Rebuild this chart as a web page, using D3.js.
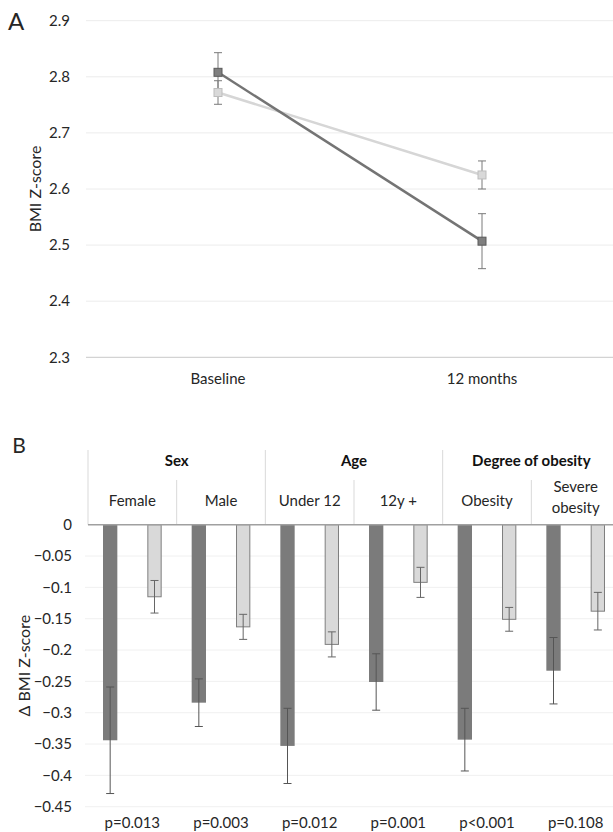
<!DOCTYPE html>
<html>
<head>
<meta charset="utf-8">
<script src="https://cdn.jsdelivr.net/npm/d3@7"></script>
<style>
  html, body { margin: 0; padding: 0; background: #fff; }
  svg { display: block; font-family: Lato, "Open Sans", sans-serif; }
</style>
</head>
<body>
<svg id="chart" width="613" height="832"></svg>
<script>
// ---------- Panel A data ----------
const timepoints = ["Baseline", "12 months"];
const darkMeans = [2.808, 2.507];
const darkErrs = [0.035, 0.049];
const lightMeans = [2.772, 2.625];
const lightErrs = [0.021, 0.025];
const ticksA = [2.3, 2.4, 2.5, 2.6, 2.7, 2.8, 2.9];

// ---------- Panel B data ----------
const categories = ["Female", "Male", "Under 12", "12y +", "Obesity", "Severe obesity"];
const groupNames = ["Sex", "Age", "Degree of obesity"];
const groupSizes = [2, 2, 2];
const darkDelta = [-0.344, -0.284, -0.353, -0.251, -0.343, -0.233];
const darkDeltaErr = [0.085, 0.038, 0.060, 0.045, 0.050, 0.053];
const lightDelta = [-0.115, -0.163, -0.191, -0.092, -0.151, -0.138];
const lightDeltaErr = [0.026, 0.020, 0.020, 0.024, 0.019, 0.030];
const pValues = ["p=0.013", "p=0.003", "p=0.012", "p=0.001", "p<0.001", "p=0.108"];
const ticksB = [0, -0.05, -0.1, -0.15, -0.2, -0.25, -0.3, -0.35, -0.4, -0.45];

const svg = d3.select("#chart");
const textColor = "#262626";
const darkFill = "#7b7b7b", lightFill = "#d9d9d9";
const fs = 15;

// ================= PANEL A =================
const xA = d3.scaleBand().domain(timepoints).range([86, 614]);
const yA = d3.scaleLinear().domain([2.3, 2.9]).range([357.3, 20.7]);
const gA = svg.append("g");

gA.append("text").attr("x", 16).attr("y", 29.5).attr("text-anchor", "middle")
  .attr("font-size", 24).attr("fill", textColor).text("A");

gA.selectAll(".gridA").data(ticksA).join("line")
  .attr("x1", 86).attr("x2", 613)
  .attr("y1", d => yA(d)).attr("y2", d => yA(d))
  .attr("stroke", d => d === 2.3 ? "#c8c8c8" : "#ececec").attr("stroke-width", 1);

gA.selectAll(".tickA").data(ticksA).join("text")
  .attr("x", 70).attr("y", d => yA(d)).attr("dy", "0.35em")
  .attr("text-anchor", "end").attr("font-size", fs).attr("fill", textColor)
  .text(d => d3.format(".1f")(d));

gA.append("text").attr("transform", `translate(41,${(yA(2.3) + yA(2.9)) / 2}) rotate(-90)`)
  .attr("text-anchor", "middle").attr("font-size", 16).attr("fill", textColor).text("BMI Z-score");

gA.selectAll(".xlabA").data(timepoints).join("text")
  .attr("x", d => xA(d) + xA.bandwidth() / 2).attr("y", 384)
  .attr("text-anchor", "middle").attr("font-size", fs).attr("fill", textColor).text(d => d);

const seriesA = [
  { means: lightMeans, errs: lightErrs, line: "#d6d6d6", fill: "#d9d9d9", stroke: "#bdbdbd" },
  { means: darkMeans, errs: darkErrs, line: "#747474", fill: "#7f7f7f", stroke: "#5a5a5a" }
];
const cx = i => xA(timepoints[i]) + xA.bandwidth() / 2;
const lineGen = d3.line().x((d, i) => cx(i)).y(d => yA(d));

seriesA.forEach(s => {
  gA.append("path").datum(s.means).attr("d", lineGen)
    .attr("fill", "none").attr("stroke", s.line).attr("stroke-width", 2.5);
});
seriesA.forEach(s => {
  const eg = gA.append("g").attr("stroke", "#7a7a7a").attr("stroke-width", 1);
  s.means.forEach((m, i) => {
    const x = cx(i), t = yA(m + s.errs[i]), b = yA(m - s.errs[i]);
    eg.append("line").attr("x1", x).attr("x2", x).attr("y1", t).attr("y2", b);
    eg.append("line").attr("x1", x - 4).attr("x2", x + 4).attr("y1", t).attr("y2", t);
    eg.append("line").attr("x1", x - 4).attr("x2", x + 4).attr("y1", b).attr("y2", b);
  });
});
seriesA.forEach(s => {
  gA.selectAll(null).data(s.means).join("rect")
    .attr("x", (d, i) => cx(i) - 4).attr("y", d => yA(d) - 4)
    .attr("width", 8).attr("height", 8)
    .attr("fill", s.fill).attr("stroke", s.stroke).attr("stroke-width", 1);
});

// ================= PANEL B =================
const x0 = d3.scaleBand().domain(categories).range([88, 620]);
const seriesKeys = ["dark", "light"];
const x1 = d3.scaleBand().domain(seriesKeys).range([0, x0.bandwidth()])
  .paddingInner(0.677).paddingOuter(0.3385);
const yB = d3.scaleLinear().domain([-0.45, 0]).range([806.7, 524.7]);
const gB = svg.append("g");

gB.append("text").attr("x", 19).attr("y", 452.5).attr("text-anchor", "middle")
  .attr("font-size", 21).attr("fill", textColor).text("B");

gB.selectAll(".gridB").data(ticksB.filter(d => d !== 0)).join("line")
  .attr("x1", 85).attr("x2", 613)
  .attr("y1", d => yB(d)).attr("y2", d => yB(d))
  .attr("stroke", "#f0f0f0").attr("stroke-width", 1);

gB.selectAll(".tickB").data(ticksB).join("text")
  .attr("x", 72).attr("y", d => yB(d)).attr("dy", "0.35em")
  .attr("text-anchor", "end").attr("font-size", fs).attr("fill", textColor)
  .text(d => d === 0 ? "0" : d3.format("")(+d.toFixed(2)));

gB.append("text").attr("transform", `translate(30,${(yB(0) + yB(-0.45)) / 2}) rotate(-90)`)
  .attr("text-anchor", "middle").attr("font-size", 16).attr("fill", textColor).text("Δ BMI Z-score");

let idx = 0;
const groupStarts = [];
groupSizes.forEach(n => { groupStarts.push(idx); idx += n; });
groupStarts.forEach((start, gi) => {
  const xs = x0(categories[start]);
  const xe = x0(categories[start + groupSizes[gi] - 1]) + x0.bandwidth();
  gB.append("line").attr("x1", xs).attr("x2", xs).attr("y1", 450).attr("y2", yB(0))
    .attr("stroke", "#d9d9d9");
  gB.append("text").attr("x", (xs + xe) / 2).attr("y", 466)
    .attr("text-anchor", "middle").attr("font-size", fs).attr("font-weight", "bold")
    .attr("fill", "#111").text(groupNames[gi]);
});
categories.forEach((c, i) => {
  if (!groupStarts.includes(i)) {
    gB.append("line").attr("x1", x0(c)).attr("x2", x0(c)).attr("y1", 480).attr("y2", yB(0))
      .attr("stroke", "#d9d9d9");
  }
  const words = c === "Severe obesity" ? ["Severe", "obesity"] : [c];
  const t = gB.append("text").attr("text-anchor", "middle").attr("font-size", fs).attr("fill", textColor);
  if (words.length === 1) {
    t.attr("x", x0(c) + x0.bandwidth() / 2).attr("y", 506).text(c);
  } else {
    words.forEach((w, k) => {
      t.append("tspan").attr("x", x0(c) + x0.bandwidth() / 2).attr("y", 492 + k * 21).text(w);
    });
  }
});

const barData = categories.map((c, i) => [
  { cat: c, key: "dark", v: darkDelta[i], e: darkDeltaErr[i] },
  { cat: c, key: "light", v: lightDelta[i], e: lightDeltaErr[i] }
]).flat();

gB.selectAll(".bar").data(barData).join("rect")
  .attr("x", d => x0(d.cat) + x1(d.key) + (d.key === "light" ? 0.5 : 0))
  .attr("y", yB(0))
  .attr("width", d => x1.bandwidth() - (d.key === "light" ? 1 : 0))
  .attr("height", d => yB(d.v) - yB(0))
  .attr("fill", d => d.key === "dark" ? darkFill : lightFill)
  .attr("stroke", d => d.key === "dark" ? "none" : "#7f7f7f")
  .attr("stroke-width", 1);

gB.append("line").attr("x1", 88).attr("x2", 613).attr("y1", yB(0)).attr("y2", yB(0))
  .attr("stroke", "#a0a0a0").attr("stroke-width", 1.5);

barData.forEach(d => {
  const x = x0(d.cat) + x1(d.key) + x1.bandwidth() / 2;
  const t = yB(d.v + d.e), b = yB(d.v - d.e);
  const col = d.key === "dark" ? "#555" : "#666";
  const g = gB.append("g").attr("stroke", col).attr("stroke-width", 1);
  g.append("line").attr("x1", x).attr("x2", x).attr("y1", t).attr("y2", b);
  g.append("line").attr("x1", x - 4).attr("x2", x + 4).attr("y1", t).attr("y2", t);
  g.append("line").attr("x1", x - 4).attr("x2", x + 4).attr("y1", b).attr("y2", b);
});

gB.selectAll(".pval").data(pValues).join("text")
  .attr("x", (d, i) => x0(categories[i]) + x0.bandwidth() / 2).attr("y", 828)
  .attr("text-anchor", "middle").attr("font-size", fs).attr("fill", textColor).text(d => d);
</script>
</body>
</html>
